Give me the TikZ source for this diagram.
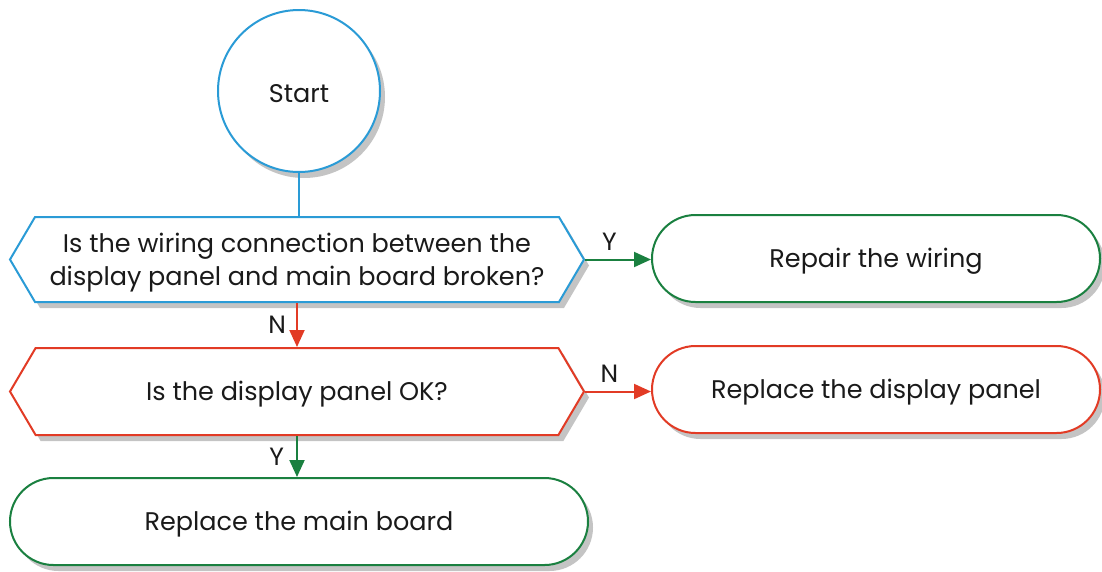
\documentclass[tikz,border=0pt]{standalone}
\usepackage{fontspec}
\setmainfont{Poppins}
\usetikzlibrary{shapes.misc,shapes.symbols,shadows,arrows.meta}
\definecolor{cblue}{HTML}{2A9BD6}
\definecolor{cgreen}{HTML}{1A8040}
\definecolor{cred}{HTML}{E23B25}
\definecolor{cshadow}{HTML}{C4C4C4}
\definecolor{ctext}{HTML}{1A1A1A}
\newcommand\lowr[1]{\raisebox{-3pt}[\height][\depth]{#1}}
\tikzset{
  shad/.style={drop shadow={shadow xshift=5pt,shadow yshift=-6pt,fill=cshadow,opacity=1}},
  base/.style={line width=2pt,fill=white,shad,font=\fontsize{25.5}{33}\selectfont,text=ctext},
  hexa/.style={base,signal,signal to=west and east,signal pointer angle=119,minimum width=574pt,minimum height=85pt,inner sep=0pt},
  term/.style={base,rounded rectangle,minimum height=87pt,inner sep=0pt},
  conn/.style={line width=2pt,-{Triangle[length=17pt,width=15pt]}},
  lab/.style={font=\fontsize{25}{25}\selectfont,text=ctext,inner sep=0pt}
}
\begin{document}
\begin{tikzpicture}[x=1pt,y=-1pt]
\useasboundingbox (0,0) rectangle (1102,571);
\node[base,circle,draw=cblue,minimum size=162pt,inner sep=0pt] (start) at (299,91) {\lowr{Start}};
\node[hexa,draw=cblue] (h1) at (297,259.5) {\lowr{\begin{tabular}{@{}c@{}}Is the wiring connection between the\\display panel and main board broken?\end{tabular}}};
\node[hexa,draw=cred,minimum height=87pt] (h2) at (297,391.5) {\lowr{Is the display panel OK?}};
\node[term,draw=cgreen,minimum width=448pt] (r1) at (876,258.5) {\lowr{Repair the wiring}};
\node[term,draw=cred,minimum width=448pt] (r2) at (876,389.5) {\lowr{Replace the display panel}};
\node[term,draw=cgreen,minimum width=578pt] (r3) at (299,521.5) {\lowr{Replace the main board}};
\draw[line width=2pt,cblue] (start.south) -- (start.south |- h1.north);
\draw[conn,cgreen] (h1.east) -- (h1.east -| r1.west) node[lab,pos=0.37,above=8pt] (ly1) {Y};
\draw[conn,cred] (h2.east) -- (h2.east -| r2.west) node[lab,pos=0.37,above=8pt] (ln2) {N};
\draw[conn,cred] (h1.south) -- (h2.north) node[lab,pos=0.5,left=10pt] (ln1) {N};
\draw[conn,cgreen] (h2.south) -- (h2.south |- r3.north) node[lab,pos=0.5,left=12pt] (ly2) {Y};
\end{tikzpicture}
\end{document}
